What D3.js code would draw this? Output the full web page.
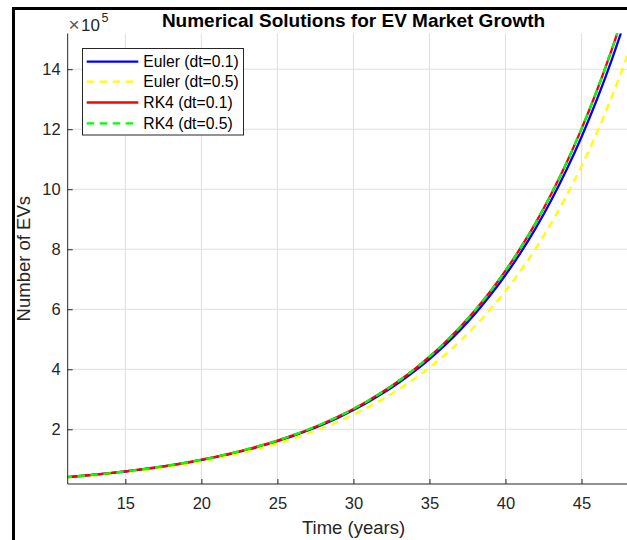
<!DOCTYPE html>
<html>
<head>
<meta charset="utf-8">
<script src="https://cdn.jsdelivr.net/npm/d3@7"></script>
<style>
  html, body { margin: 0; padding: 0; background: #fff; overflow: hidden; }
  svg { display: block; font-family: "Liberation Sans", Arial, Helvetica, sans-serif; }
</style>
</head>
<body>
<svg id="chart" width="627" height="540"></svg>
<script>
// ---- data ----
const years = [11,12,13,14,15,16,17,18,19,20,21,22,23,24,25,26,27,28,29,30,
               31,32,33,34,35,36,37,38,39,40,41,42,43,44,45,46,47,48];
const eulerDt01 = [39870,44030,48640,53730,59350,65560,72420,79990,88360,97600,
                   107820,119100,131560,145320,160520,177310,195870,216370,239000,264000,
                   291630,322140,355820,393050,434170,479590,529760,585160,646430,714090,
                   788780,871300,962420,1063100,1174300,1297300,1433000,1582900];
const eulerDt05 = [39000,43000,47400,52300,57700,63600,70100,77300,85200,93900,
                   103600,114200,125900,138800,153000,168700,186000,205000,226100,249200,
                   274800,302900,334000,368200,406000,447600,493400,544000,599800,661300,
                   729100,803800,886200,977100,1077300,1187600,1309400,1443600];
const rk4Dt01 = [40090,44300,48960,54110,59800,66090,73040,80720,89210,98590,
                 108960,120420,133090,147080,162550,179650,198540,219420,242500,268000,
                 296190,327340,361760,399810,441860,488330,539690,596440,659170,728500,
                 805120,889790,983370,1086800,1201100,1327400,1467000,1621300];
const rk4Dt05 = [40090,44300,48960,54110,59800,66090,73040,80720,89210,98590,
                 108960,120420,133090,147080,162550,179650,198540,219420,242500,268000,
                 296190,327340,361760,399810,441860,488330,539690,596440,659170,728500,
                 805120,889790,983370,1086800,1201100,1327400,1467000,1621300];
const seriesNames = ["Euler (dt=0.1)", "Euler (dt=0.5)", "RK4 (dt=0.1)", "RK4 (dt=0.5)"];
const xTicks = [15,20,25,30,35,40,45];
const yTicks = [200000,400000,600000,800000,1000000,1200000,1400000];
const xDomain = [11.21, 48.8];
const yDomain = [17700, 1519000];
const titleText = "Numerical Solutions for EV Market Growth";
const xLabelText = "Time (years)";
const yLabelText = "Number of EVs";

// ---- styles ----
const seriesStyles = [
  { color: "#0000ff", dash: null },
  { color: "#ffff00", dash: "7.5,5.5" },
  { color: "#ff0000", dash: null },
  { color: "#00ff00", dash: "7.5,5.5" }
];
const seriesData = [eulerDt01, eulerDt05, rk4Dt01, rk4Dt05];

const svg = d3.select("#chart");
const L = 67.7, R = 639.3, T = 33.5, B = 484;
const axisColor = "#262626";

const x = d3.scaleLinear().domain(xDomain).range([L, R]);
const y = d3.scaleLinear().domain(yDomain).range([B, T]);

// outer frame
svg.append("rect").attr("x", 13.5).attr("y", 8.5).attr("width", 800).attr("height", 800)
  .attr("fill", "#fff").attr("stroke", "#000").attr("stroke-width", 3);

// grid
const grid = svg.append("g");
grid.selectAll("line.vx").data(xTicks).join("line")
  .attr("x1", d => x(d)).attr("x2", d => x(d)).attr("y1", T).attr("y2", B)
  .attr("stroke", "#dfdfdf").attr("stroke-width", 1);
grid.selectAll("line.hy").data(yTicks).join("line")
  .attr("y1", d => y(d)).attr("y2", d => y(d)).attr("x1", L).attr("x2", R)
  .attr("stroke", "#dfdfdf").attr("stroke-width", 1);

// clip
svg.append("clipPath").attr("id", "clip").append("rect")
  .attr("x", L).attr("y", T).attr("width", R - L).attr("height", B - T);

// lines
const line = d3.line().x((d, i) => x(years[i])).y(d => y(d)).curve(d3.curveMonotoneX);
const plot = svg.append("g").attr("clip-path", "url(#clip)");
seriesData.forEach((vals, k) => {
  plot.append("path").datum(vals)
    .attr("d", line)
    .attr("fill", "none")
    .attr("stroke", seriesStyles[k].color)
    .attr("stroke-width", 2.3)
    .attr("stroke-dasharray", seriesStyles[k].dash);
});

// axes
const xAxis = d3.axisBottom(x).tickValues(xTicks).tickSizeInner(-5).tickSizeOuter(0).tickPadding(13).tickFormat(d3.format("d"));
const yAxis = d3.axisLeft(y).tickValues(yTicks).tickSizeInner(-5).tickSizeOuter(0).tickPadding(7).tickFormat(d => d / 1e5);

const gx = svg.append("g").attr("transform", `translate(0,${B})`).call(xAxis);
const gy = svg.append("g").attr("transform", `translate(${L},0)`).call(yAxis);
[gx, gy].forEach(g => {
  g.select(".domain").attr("stroke", axisColor).attr("stroke-width", 1);
  g.selectAll(".tick line").attr("stroke", axisColor).attr("stroke-width", 1);
  g.selectAll(".tick text").attr("fill", axisColor).style("font-size", "16.5px")
    .style("font-family", "'Liberation Sans', Arial, sans-serif");
});
gy.select(".domain").attr("d", `M0,${B}V${T}`);
gx.select(".domain").attr("d", `M${L},0H${R}`);

// exponent label
svg.append("text").attr("x", 68.5).attr("y", 30.5).attr("fill", "#555")
  .style("font-size", "19px").text("\u00d7");
const exp = svg.append("text").attr("x", 81).attr("y", 30.8).attr("fill", axisColor)
  .style("font-size", "17px");
exp.append("tspan").text("10");
exp.append("tspan").attr("dy", -9).attr("dx", 1.5).style("font-size", "12.5px").text("5");

// title
svg.append("text").attr("x", 353.5).attr("y", 27).attr("text-anchor", "middle")
  .style("font-size", "19px").style("font-weight", "bold").attr("fill", "#000")
  .text(titleText);

// axis labels
svg.append("text").attr("x", 353.5).attr("y", 534).attr("text-anchor", "middle")
  .style("font-size", "18.5px").attr("fill", axisColor).text(xLabelText);
svg.append("text").attr("transform", "translate(30,258.7) rotate(-90)").attr("text-anchor", "middle")
  .style("font-size", "18.5px").attr("fill", axisColor).text(yLabelText);

// legend
const lg = svg.append("g");
lg.append("rect").attr("x", 82.5).attr("y", 48.5).attr("width", 161).attr("height", 86.5)
  .attr("fill", "#fff").attr("stroke", axisColor).attr("stroke-width", 1);
const legendY = [61.7, 81.7, 102.5, 123.3];
seriesNames.forEach((name, k) => {
  lg.append("line").attr("x1", 86.7).attr("x2", 138.3)
    .attr("y1", legendY[k]).attr("y2", legendY[k])
    .attr("stroke", seriesStyles[k].color).attr("stroke-width", 2.3)
    .attr("stroke-dasharray", seriesStyles[k].dash);
  lg.append("text").attr("x", 143.3).attr("y", legendY[k] + 5.6)
    .style("font-size", "15.7px").attr("fill", "#000").text(name);
});
</script>
</body>
</html>
